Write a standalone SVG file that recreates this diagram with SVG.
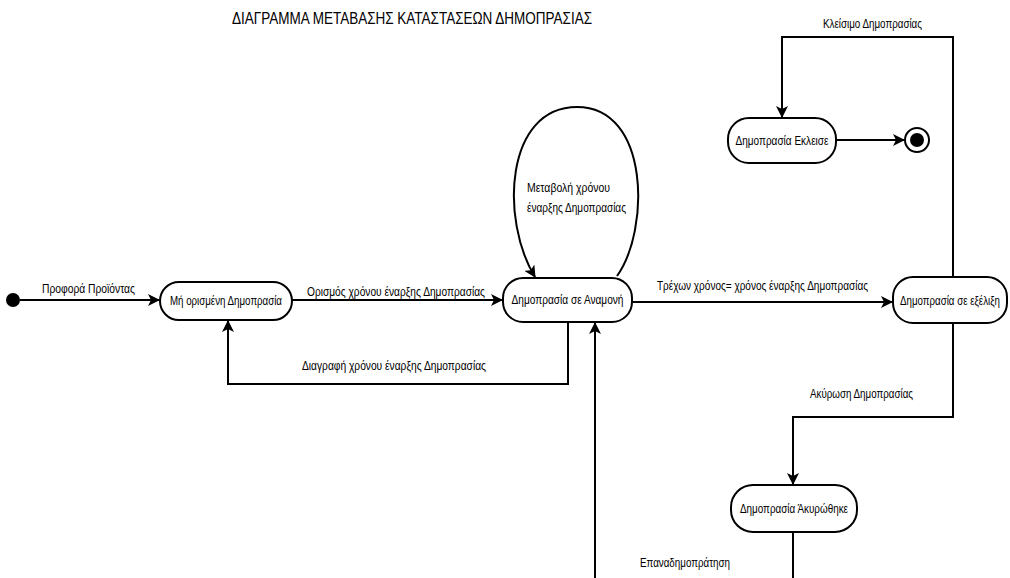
<svg xmlns="http://www.w3.org/2000/svg" width="1010" height="578" viewBox="0 0 1010 578">
<defs>
<marker id="arr" viewBox="0 0 12 12" refX="11" refY="6" markerWidth="12" markerHeight="12" markerUnits="userSpaceOnUse" orient="auto">
<path d="M0,0 L12,6 L0,12 L3,6 z" fill="#000"/>
</marker>
</defs>
<style>
.st{fill:#fff;stroke:#000;stroke-width:2}
.ln{fill:none;stroke:#000;stroke-width:2}
.t{font-family:"Liberation Sans",Arial,sans-serif;font-size:12px;fill:#000}
.title{font-family:"Liberation Sans",Arial,sans-serif;font-size:16px;fill:#000}
</style>
<rect width="1010" height="578" fill="#fff"/>
<text class="title" x="232" y="24" textLength="360" lengthAdjust="spacingAndGlyphs">ΔΙΑΓΡΑΜΜΑ ΜΕΤΑΒΑΣΗΣ ΚΑΤΑΣΤΑΣΕΩΝ ΔΗΜΟΠΡΑΣΙΑΣ</text>
<g id="connectors">
<line class="ln" x1="20" y1="300" x2="159" y2="300" marker-end="url(#arr)"/>
<line class="ln" x1="292" y1="300" x2="502" y2="300" marker-end="url(#arr)"/>
<polyline class="ln" points="568,322 568,384 228,384 228,321" marker-end="url(#arr)"/>
<polyline class="ln" points="595,578 595,323" marker-end="url(#arr)"/>
<path class="ln" d="M617,276 C650,230 650,107 577,107 C505,107 500,220 535,277" marker-end="url(#arr)"/>
<line class="ln" x1="632" y1="302" x2="892" y2="302" marker-end="url(#arr)"/>
<polyline class="ln" points="953,277 953,37 782,37 782,117" marker-end="url(#arr)"/>
<line class="ln" x1="836" y1="140" x2="904" y2="140" marker-end="url(#arr)"/>
<polyline class="ln" points="953,323 953,417 793,417 793,484" marker-end="url(#arr)"/>
<line class="ln" x1="793" y1="532" x2="793" y2="578"/>
<text class="t" x="42" y="293" textLength="93" lengthAdjust="spacingAndGlyphs">Προφορά Προϊόντας</text>
<text class="t" x="307" y="296" textLength="178" lengthAdjust="spacingAndGlyphs">Ορισμός χρόνου έναρξης Δημοπρασίας</text>
<text class="t" x="302" y="370" textLength="184" lengthAdjust="spacingAndGlyphs">Διαγραφή  χρόνου έναρξης Δημοπρασίας</text>
<text class="t" x="527" y="192" textLength="83" lengthAdjust="spacingAndGlyphs">Μεταβολή  χρόνου</text>
<text class="t" x="527" y="212" textLength="99" lengthAdjust="spacingAndGlyphs">έναρξης Δημοπρασίας</text>
<text class="t" x="657" y="290" textLength="211" lengthAdjust="spacingAndGlyphs">Τρέχων χρόνος= χρόνος έναρξης Δημοπρασίας</text>
<text class="t" x="823" y="28" textLength="99" lengthAdjust="spacingAndGlyphs">Κλείσιμο Δημοπρασίας</text>
<text class="t" x="810" y="398" textLength="103" lengthAdjust="spacingAndGlyphs">Ακύρωση Δημοπρασίας</text>
<text class="t" x="640" y="567" textLength="90" lengthAdjust="spacingAndGlyphs">Επαναδημοπράτηση</text>
</g>
<g id="initial"><circle cx="13" cy="300" r="7" fill="#000"/></g>
<g id="n1"><rect class="st" x="160" y="282" width="132" height="38" rx="19"/><text class="t" x="226" y="305" text-anchor="middle" textLength="112" lengthAdjust="spacingAndGlyphs">Μή ορισμένη Δημοπρασία</text></g>
<g id="n2"><rect class="st" x="503" y="278" width="129" height="44" rx="20"/><text class="t" x="567.5" y="304" text-anchor="middle" textLength="112" lengthAdjust="spacingAndGlyphs">Δημοπρασία σε Αναμονή</text></g>
<g id="n3"><rect class="st" x="893" y="277" width="114" height="46" rx="20"/><text class="t" x="950" y="305" text-anchor="middle" textLength="100" lengthAdjust="spacingAndGlyphs">Δημοπρασία σε εξέλιξη</text></g>
<g id="n4"><rect class="st" x="728" y="118" width="108" height="45" rx="21"/><text class="t" x="782" y="145" text-anchor="middle" textLength="93" lengthAdjust="spacingAndGlyphs">Δημοπρασία Εκλεισε</text></g>
<g id="final"><circle cx="917" cy="140" r="12" fill="#fff" stroke="#000" stroke-width="2"/><circle cx="917" cy="140" r="7" fill="#000"/></g>
<g id="n5"><rect class="st" x="731" y="485" width="126" height="47" rx="22"/><text class="t" x="794" y="513" text-anchor="middle" textLength="108" lengthAdjust="spacingAndGlyphs">Δημοπρασία Άκυρώθηκε</text></g>
</svg>
